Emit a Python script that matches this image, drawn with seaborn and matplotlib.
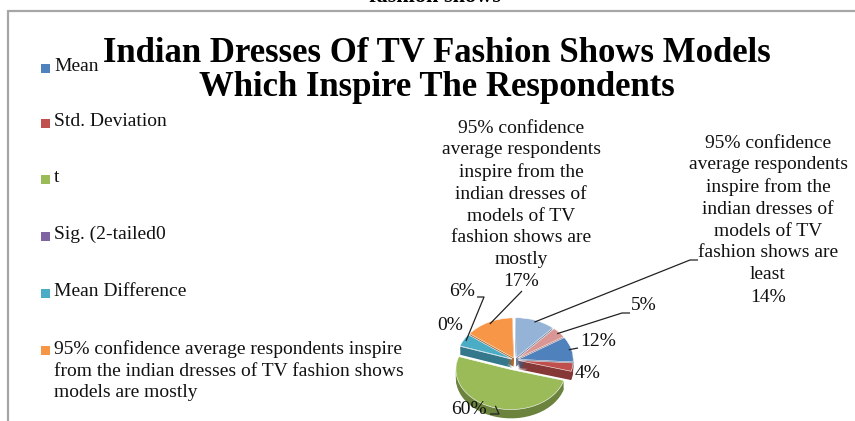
import numpy as np
import matplotlib
matplotlib.use("Agg")
import matplotlib.pyplot as plt
import matplotlib.colors as mcolors
from matplotlib.patches import Rectangle
import seaborn as sns

# ---- data -------------------------------------------------------------
categories = [
    "Mean",
    "Std. Deviation",
    "t",
    "Sig. (2-tailed0",
    "Mean Difference",
    "95% confidence average respondents inspire\nfrom the indian dresses of TV fashion shows\nmodels are mostly",
    "95% confidence average respondents inspire\nfrom the indian dresses of TV fashion shows\nmodels are least",
    "Upper",
]
percent_values = [12, 4, 60, 0, 6, 17, 14, 5]
slice_names = [
    "", "", "", "", "",
    "95% confidence\naverage respondents\ninspire from the\nindian dresses of\nmodels of TV\nfashion shows are\nmostly",
    "95% confidence\naverage respondents\ninspire from the\nindian dresses of\nmodels of TV\nfashion shows are\nleast",
    "",
]
legend_shown = 6
title_lines = ["Indian Dresses Of TV Fashion Shows Models", "Which Inspire The Respondents"]
caption = "fashion shows"

palette = ["#4F81BD", "#C0504D", "#9BBB59", "#8064A2",
           "#4BACC6", "#F79646", "#95B3D7", "#D99694"]

# ---- style ------------------------------------------------------------
sns.set_style("white")
plt.rcParams["font.family"] = ["Liberation Serif", "DejaVu Serif"]

W, H = 855, 421
fig = plt.figure(figsize=(W / 100, H / 100), dpi=100)
fig.patch.set_facecolor("white")

# overlay axes in pixel coordinates (y grows downward)
ov = fig.add_axes([0, 0, 1, 1], zorder=3)
ov.set_xlim(0, W)
ov.set_ylim(H, 0)
ov.axis("off")

# ---- tilted, exploded pie ----------------------------------------------
cx, cy = 515, 360          # pie centre in pixels
px_x, px_y = 55, 40        # pixels per unit radius (horizontal, vertical)
span = 1.6
pax = fig.add_axes([(cx - span * px_x) / W, (H - cy - span * px_y) / H,
                    2 * span * px_x / W, 2 * span * px_y / H], zorder=2)

explode = [0.06, 0.06, 0.25, 0.06, 0.06, 0.06, 0.06, 0.06]
start = 33
dark = [tuple(c * 0.7 for c in mcolors.to_rgb(p)) for p in palette]

# side walls: stacked darker copies shifted downward
for depth in np.linspace(0.22, 0.02, 8):
    pax.pie(percent_values, colors=dark, explode=explode, startangle=start,
            counterclock=False, center=(0, -depth),
            wedgeprops=dict(linewidth=0))
wedges, _ = pax.pie(percent_values, colors=palette, explode=explode,
                    startangle=start, counterclock=False,
                    wedgeprops=dict(edgecolor="white", linewidth=0.4))
pax.set_aspect("auto")
pax.set_xlim(-span, span)
pax.set_ylim(-span, span)
pax.axis("off")


def anchor(w, frac=0.95):
    """Point on the rim of wedge w, expressed in overlay pixel coordinates."""
    mid = np.deg2rad((w.theta1 + w.theta2) / 2)
    x = w.center[0] + w.r * frac * np.cos(mid)
    y = w.center[1] + w.r * frac * np.sin(mid)
    disp = pax.transData.transform((x, y))
    return ov.transData.inverted().transform(disp)


# data labels: (value x, value y, ha, leader elbow points)
label_layout = [
    (580, 341, "left", [(578, 348)]),
    (588, 373, "center", None),
    (469, 410, "center", [(499, 414), (490, 414)]),
    (450, 326, "center", None),
    (462, 292, "center", [(484, 297), (477, 297)]),
    (521, 282, "center", [(522, 291)]),
    (768, 297, "center", [(690, 260), (698, 260)]),
    (631, 306, "left", [(622, 313), (630, 313)]),
]
label_fs = 14
line_gap = 22
for w, val, name, (tx, ty, ha, pts) in zip(wedges, percent_values,
                                            slice_names, label_layout):
    ov.text(tx, ty, f"{val}%", ha=ha, va="center", fontsize=label_fs,
            color="#111111")
    if name:
        ov.text(tx, ty - line_gap / 2 - 3, name, ha="center", va="bottom",
                fontsize=label_fs, color="#111111", linespacing=1.36,
                multialignment="center")
    if pts:
        a = anchor(w)
        xs = [a[0]] + [p[0] for p in pts]
        ys = [a[1]] + [p[1] for p in pts]
        ov.plot(xs, ys, color="#222222", lw=0.9, solid_capstyle="butt")

# ---- legend ------------------------------------------------------------
leg_y = [68, 123, 179, 236, 293, 350]
for name, col, y in zip(categories[:legend_shown], palette, leg_y):
    ov.add_patch(Rectangle((41, y - 4.5), 9, 9, facecolor=col, edgecolor="none"))
    ov.text(54, y - 10, name, ha="left", va="top", fontsize=14,
            color="#111111", linespacing=1.37)

# ---- title and frame --------------------------------------------------
ov.text(437, 53, title_lines[0], ha="center", va="center", fontsize=25,
        fontweight="bold", color="black")
ov.text(437, 87, title_lines[1], ha="center", va="center", fontsize=25,
        fontweight="bold", color="black")
ov.text(435, 2, caption, ha="center", va="baseline", fontsize=16,
        fontweight="bold", color="black", clip_on=False)

ov.plot([8, W], [11, 11], color="#a6a6a6", lw=1.6)
ov.plot([8, 8], [11, H], color="#a6a6a6", lw=1.6)

fig.savefig("out.png", dpi=100)
